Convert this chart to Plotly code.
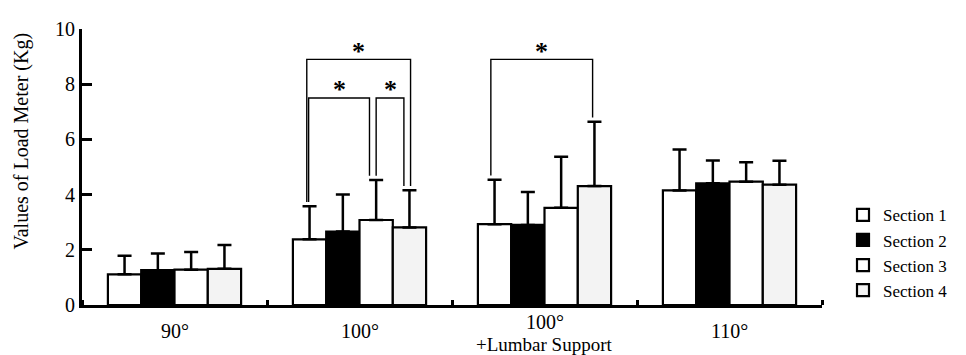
import plotly.graph_objects as go

# ---- data ----
groups = [0, 1, 2, 3]
group_labels = ["90°", "100°", "100°", "110°"]
group_sublabels = ["", "", "+Lumbar Support", ""]
sections = ["Section 1", "Section 2", "Section 3", "Section 4"]

s1 = [1.11, 2.38, 2.93, 4.15]
s2 = [1.26, 2.66, 2.90, 4.41]
s3 = [1.28, 3.08, 3.52, 4.47]
s4 = [1.31, 2.81, 4.31, 4.36]

e1 = [0.67, 1.20, 1.61, 1.48]
e2 = [0.61, 1.34, 1.19, 0.83]
e3 = [0.64, 1.45, 1.85, 0.70]
e4 = [0.86, 1.35, 2.33, 0.87]

# significance brackets: group, bar a, bar b, bracket level (kg)
sig_group = [1, 1, 1, 2]
sig_a = [0, 0, 2, 0]
sig_b = [3, 2, 3, 3]
sig_level = [8.9, 7.5, 7.5, 8.9]
sig_nudge_a = [-0.015, -0.005, 0.0, -0.02]
sig_nudge_b = [0.006, -0.036, -0.03, -0.01]

y_ticks = [0, 2, 4, 6, 8, 10]

# ---- style ----
FONT = "Liberation Serif"
fills = ["white", "black", "white", "#f3f3f3"]
BARGAP = 0.28
bar_w = (1 - BARGAP) / 4
offsets = [(-1.5 + i) * bar_w for i in range(4)]

# page body has an 8px margin; size the figure so the screenshot lines up
BODY = 8
W, HGT = 966 - BODY, 355 - BODY
L, T, R, B = 82 - BODY, 18 - BODY, 144, 50
PW, PH = W - L - R, HGT - T - B


def py(screen_y):
    return (HGT - B - (screen_y - BODY)) / PH


def px(screen_x):
    return (screen_x - BODY - L) / PW


values = [s1, s2, s3, s4]
errors = [e1, e2, e3, e4]

fig = go.Figure()
for name, v, e, c in zip(sections, values, errors, fills):
    fig.add_trace(go.Bar(
        x=groups, y=v, name=name,
        marker=dict(color=c, line=dict(color="black", width=2.2)),
        error_y=dict(type="data", symmetric=False, array=e, arrayminus=[0] * len(e),
                     color="black", thickness=2.5, width=7),
    ))

# brackets
gap = 0.15
bx, by = [], []
for g, a, b, lv, na, nb in zip(sig_group, sig_a, sig_b, sig_level, sig_nudge_a, sig_nudge_b):
    xa = g + offsets[a] + na
    xb = g + offsets[b] + nb
    ya = values[a][g] + errors[a][g] + gap
    yb = values[b][g] + errors[b][g] + gap
    bx += [xa, xa, xb, xb, None]
    by += [ya, lv, lv, yb, None]
    fig.add_annotation(x=(xa + xb) / 2, y=lv + 0.3, text="<b>*</b>", showarrow=False,
                       xref="x", yref="y", yanchor="middle",
                       font=dict(family=FONT, size=26, color="black"))
fig.add_trace(go.Scatter(x=bx, y=by, mode="lines", showlegend=False, hoverinfo="skip",
                         line=dict(color="black", width=1.4)))

# x category labels
for g, lab, sub in zip(groups, group_labels, group_sublabels):
    if sub:
        fig.add_annotation(x=g, y=py(323), text=lab, showarrow=False, xref="x", yref="paper",
                           yanchor="middle", font=dict(family=FONT, size=20, color="black"))
        fig.add_annotation(x=g, y=py(346), text=sub, showarrow=False, xref="x", yref="paper",
                           yanchor="middle", font=dict(family=FONT, size=19, color="black"))
    else:
        fig.add_annotation(x=g, y=py(332), text=lab, showarrow=False, xref="x", yref="paper",
                           yanchor="middle", font=dict(family=FONT, size=20, color="black"))

# y title
fig.add_annotation(x=px(22), y=py(135), xref="paper", yref="paper",
                   text="Values of Load Meter (Kg)", textangle=-90, showarrow=False,
                   xanchor="center", yanchor="middle",
                   font=dict(family=FONT, size=20, color="black"))

fig.update_layout(
    width=W, height=HGT,
    margin=dict(l=L, r=R, t=T, b=B),
    paper_bgcolor="white", plot_bgcolor="white",
    barmode="group", bargap=BARGAP, bargroupgap=0,
    font=dict(family=FONT, size=20, color="black"),
    showlegend=True,
    legend=dict(x=px(843), y=py(193), xanchor="left", yanchor="top",
                font=dict(family=FONT, size=17, color="black"),
                bgcolor="rgba(0,0,0,0)", itemclick=False),
    xaxis=dict(range=[-0.5, 3.5], showgrid=False, zeroline=False,
               showline=True, linecolor="black", linewidth=3,
               tickvals=groups, showticklabels=False, ticks="",
               minor=dict(tick0=0.5, dtick=1, ticks="inside", ticklen=5, tickwidth=3,
                          tickcolor="black", showgrid=False)),
    yaxis=dict(range=[0, 10], showgrid=False, zeroline=False,
               showline=True, linecolor="black", linewidth=3,
               tickvals=y_ticks, ticks="inside", ticklen=10, tickwidth=3, tickcolor="black",
               ticklabeloverflow="allow",
               tickfont=dict(family=FONT, size=20, color="black")),
)

fig.write_html("out.html")
